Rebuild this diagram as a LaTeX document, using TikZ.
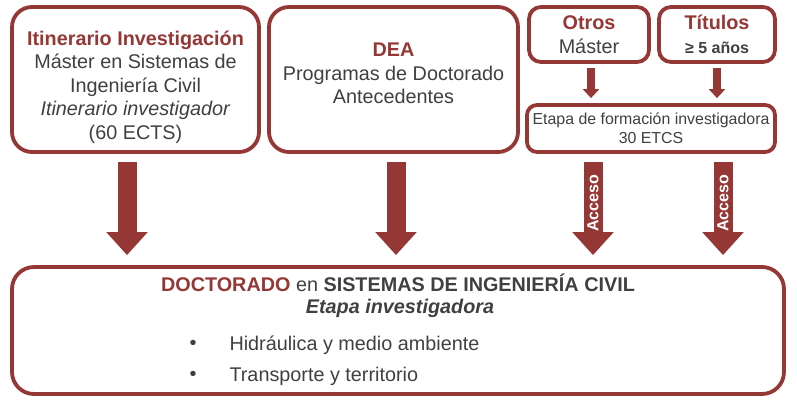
\documentclass[tikz,border=0pt]{standalone}
\usepackage{fontspec}
\setmainfont{Liberation Sans}
\usetikzlibrary{arrows.meta, calc}
\definecolor{darkred}{HTML}{953735}
\definecolor{textgray}{HTML}{404040}

\begin{document}
\begin{tikzpicture}[x=1pt, y=-1pt,
  frame/.style={draw=darkred, line width=3.8pt, fill=white, rectangle, inner sep=0pt},
  txt/.style={text=textgray, align=center, font=\fontsize{19.8}{23.5}\selectfont},
  bigarrow/.style={draw=darkred, line width=19pt, -{Triangle[width=40pt, length=23pt]}, shorten >=10pt},
  smallarrow/.style={draw=darkred, line width=8pt, -{Triangle[width=16pt, length=9pt]}, shorten >=5pt},
  acceso/.style={rotate=90, text=white, font=\bfseries\fontsize{16}{16}\selectfont}]
\useasboundingbox (0,0) rectangle (797,405);
% Draw boxes
\node[frame, rounded corners=20pt, minimum width=247pt, minimum height=145pt] (itin) at (135.5,79.5) {};
\node[frame, rounded corners=20pt, minimum width=249pt, minimum height=145pt] (dea) at (393.5,79.5) {};
\node[frame, rounded corners=12pt, minimum width=120pt, minimum height=55pt, txt] (otros) at (589,34.5)
  {{\color{darkred}\bfseries Otros}\\M\'aster};
\node[frame, rounded corners=12pt, minimum width=116pt, minimum height=55pt, txt] (titulos) at (717,34.5)
  {{\color{darkred}\bfseries T\'itulos}\\{\bfseries\fontsize{16}{19}\selectfont ≥ 5 años}};
\node[frame, rounded corners=10pt, minimum width=248pt, minimum height=47pt, txt, font=\fontsize{15.9}{19}\selectfont] (etapa) at (651,128.5)
  {Etapa de formación investigadora\\30 ETCS};
\node[frame, rounded corners=22pt, minimum width=772pt, minimum height=127pt] (doct) at (398,330.5) {};
% Texts of the large boxes
\node[txt] (itin-txt) at (135.5,87) {{\color{darkred}\bfseries Itinerario Investigación}\\
  Máster en Sistemas de\\Ingeniería Civil\\\textit{Itinerario investigador}\\(60 ECTS)};
\node[txt] (dea-txt) at (393.5,73.5) {{\color{darkred}\bfseries DEA}\\Programas de Doctorado\\Antecedentes};
\node[txt, font=\bfseries\fontsize{19.8}{23.5}\selectfont] (doct-title) at (398,283)
  {{\color{darkred}DOCTORADO} {\mdseries en} SISTEMAS DE INGENIERÍA CIVIL};
\node[txt, font=\bfseries\itshape\fontsize{19.8}{23.5}\selectfont] (doct-sub) at (400,308) {Etapa investigadora};
\foreach \y/\t [count=\i] in {345/Hidráulica y medio ambiente, 376/Transporte y territorio} {
  \node[txt] (dot\i) at (193,\y) {\textbullet};
  \node[txt, anchor=west] (item\i) at (226,\y) {\t};
}
% Draw arrows
\coordinate (s1) at (591,68);
\coordinate (s2) at (717,68);
\draw[smallarrow] (s1) -- (s1 |- etapa.north);
\draw[smallarrow] (s2) -- (s2 |- etapa.north);
\coordinate (a1) at (127,162);
\coordinate (a2) at (396,162);
\coordinate (a3) at (593,162);
\coordinate (a4) at (723,162);
\draw[bigarrow] (a1) -- (a1 |- doct.north);
\draw[bigarrow] (a2) -- (a2 |- doct.north);
\draw[bigarrow] (a3) -- node[acceso, pos=0.4] (acc1) {Acceso} (a3 |- doct.north);
\draw[bigarrow] (a4) -- node[acceso, pos=0.4] (acc2) {Acceso} (a4 |- doct.north);
\end{tikzpicture}
\end{document}
